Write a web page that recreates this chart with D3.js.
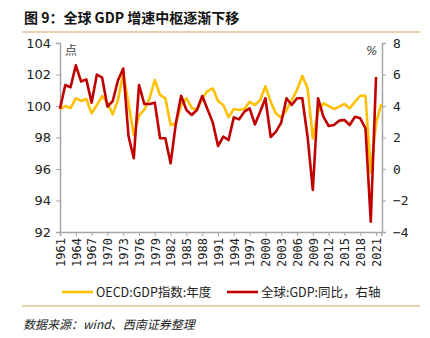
<!DOCTYPE html>
<html>
<head>
<meta charset="utf-8">
<script src="https://cdn.jsdelivr.net/npm/d3@7"></script>
<style>
  body { margin: 0; background: #fff; }
  svg { display: block; }
</style>
</head>
<body>
<script>
// years 1961..2022
let years = d3.range(1961, 2023)

// OECD GDP index (left axis), 1961-2022
let oecd = [99.8, 100.0, 99.87, 100.49, 100.32, 100.44, 99.54, 100.06, 100.63, 100.21,
  99.47, 100.38, 102.1, 100.17, 98.16, 99.4, 99.75, 100.49, 101.65, 100.7,
  100.49, 98.79, 98.9, 100.06, 100.49, 99.89, 99.75, 100.49, 100.95, 101.12,
  100.32, 100.06, 99.28, 99.81, 99.75, 99.81, 100.27, 100.06, 100.38, 101.25,
  100.27, 99.52, 99.25, 99.75, 100.38, 101.02, 101.9, 101.12, 97.95, 99.64,
  100.17, 100.0, 99.81, 99.96, 100.13, 99.85, 100.27, 100.65, 100.65, 95.77,
  98.9, 100.13]

// world GDP yoy % (right axis), 1961-2021
let world = [3.83, 5.33, 5.19, 6.58, 5.56, 5.69, 4.21, 6.0, 5.8, 3.97,
  4.3, 5.62, 6.38, 2.1, 0.68, 5.33, 4.13, 4.13, 4.21, 1.95,
  1.95, 0.36, 2.9, 4.65, 3.75, 3.43, 3.75, 4.63, 3.79, 2.96,
  1.46, 2.05, 1.84, 3.28, 3.15, 3.64, 3.85, 2.83, 3.64, 4.49,
  2.03, 2.37, 2.95, 4.49, 4.06, 4.49, 4.49, 2.05, -1.33, 4.49,
  3.32, 2.73, 2.79, 3.07, 3.11, 2.79, 3.32, 3.22, 2.58, -3.35,
  5.84]

let leftTicks = [92, 94, 96, 98, 100, 102, 104]
let rightTicks = [-4, -2, 0, 2, 4, 6, 8]
let xTicks = d3.range(1961, 2022, 3)

let w = 430
let h = 338
let plotL = 60, plotR = 382, plotT = 43, plotB = 232
let gray = '#a6a6a6'

let svg = d3.select('body').append('svg')
  .attr('width', w)
  .attr('height', h)

// title and rules
svg.append('text')
  .attr('x', 24).attr('y', 23)
  .attr('font-family', 'Noto Sans CJK SC')
  .attr('font-weight', 'bold')
  .attr('font-size', 14)
  .attr('fill', '#111')
  .text('图 9：全球 GDP 增速中枢逐渐下移')

svg.append('line')
  .attr('x1', 22).attr('x2', 420).attr('y1', 32).attr('y2', 32)
  .attr('stroke', '#d9a55a').attr('stroke-width', 1.2)
svg.append('line')
  .attr('x1', 22).attr('x2', 420).attr('y1', 306).attr('y2', 306)
  .attr('stroke', '#d9a55a').attr('stroke-width', 1.2)

let x = d3.scaleLinear().domain([1961, 2022]).range([plotL, 381.3])
let yL = d3.scaleLinear().domain([92, 104]).range([plotB, plotT])
let yR = d3.scaleLinear().domain([-4, 8]).range([plotB, plotT])

// left axis
let gL = svg.append('g')
  .attr('transform', `translate(${plotL},0)`)
  .call(d3.axisLeft(yL).tickValues(leftTicks).tickSize(4).tickPadding(5))
gL.select('.domain').attr('stroke', gray).attr('stroke-width', 1.5)
gL.selectAll('.tick line').attr('stroke', gray)
gL.selectAll('text')
  .attr('font-family', 'DejaVu Sans')
  .attr('font-size', 13)
  .attr('fill', '#222')

// right axis
let gR = svg.append('g')
  .attr('transform', `translate(${plotR},0)`)
  .call(d3.axisRight(yR).tickValues(rightTicks).tickSize(4).tickPadding(7))
gR.select('.domain').attr('stroke', gray).attr('stroke-width', 1.5)
gR.selectAll('.tick line').attr('stroke', gray)
gR.selectAll('text')
  .attr('font-family', 'DejaVu Sans Mono')
  .attr('font-size', 13)
  .attr('fill', '#222')

// bottom axis
let gB = svg.append('g')
  .attr('transform', `translate(0,${plotB})`)
  .call(d3.axisBottom(x).tickValues(xTicks).tickFormat(d3.format('d')).tickSize(4).tickPadding(0))
gB.select('.domain').attr('stroke', gray).attr('stroke-width', 1.5)
gB.selectAll('.tick line').attr('stroke', gray)
gB.selectAll('text')
  .attr('font-family', 'DejaVu Sans Mono')
  .attr('font-size', 12)
  .attr('fill', '#222')
  .attr('transform', 'rotate(-90)')
  .attr('text-anchor', 'end')
  .attr('dy', '0.35em')
  .attr('x', -6)
  .attr('y', 0)

// unit labels
svg.append('text')
  .attr('x', 65).attr('y', 55)
  .attr('font-family', 'Noto Sans CJK SC')
  .attr('font-size', 12).attr('fill', '#444')
  .text('点')
svg.append('text')
  .attr('x', 366).attr('y', 55)
  .attr('font-family', 'DejaVu Sans')
  .attr('font-style', 'italic')
  .attr('font-size', 12).attr('fill', '#444')
  .text('%')

// lines
let lineL = d3.line().x((d, i) => x(years[i])).y(d => yL(d))
let lineR = d3.line().x((d, i) => x(years[i])).y(d => yR(d))

svg.append('path')
  .datum(oecd)
  .attr('d', lineL)
  .attr('fill', 'none')
  .attr('stroke', '#ffc000')
  .attr('stroke-width', 2.6)
  .attr('stroke-linejoin', 'round')

svg.append('path')
  .datum(world)
  .attr('d', lineR)
  .attr('fill', 'none')
  .attr('stroke', '#c00000')
  .attr('stroke-width', 2.6)
  .attr('stroke-linejoin', 'round')

// legend
let legend = [
  {name: 'OECD:GDP指数:年度', color: '#ffc000', x: 62},
  {name: '全球:GDP:同比，右轴', color: '#c00000', x: 227}
]
legend.forEach(d => {
  svg.append('line')
    .attr('x1', d.x).attr('x2', d.x + 31)
    .attr('y1', 292).attr('y2', 292)
    .attr('stroke', d.color).attr('stroke-width', 2.6)
  svg.append('text')
    .attr('x', d.x + 34).attr('y', 297)
    .attr('font-family', 'Noto Sans CJK SC')
    .attr('font-size', 12.5).attr('fill', '#222')
    .text(d.name)
})

// source
svg.append('text')
  .attr('x', 23).attr('y', 329)
  .attr('font-family', 'Noto Sans CJK SC')
  .attr('font-style', 'italic')
  .attr('font-size', 12).attr('fill', '#222')
  .text('数据来源：wind、西南证券整理')
</script>
</body>
</html>
